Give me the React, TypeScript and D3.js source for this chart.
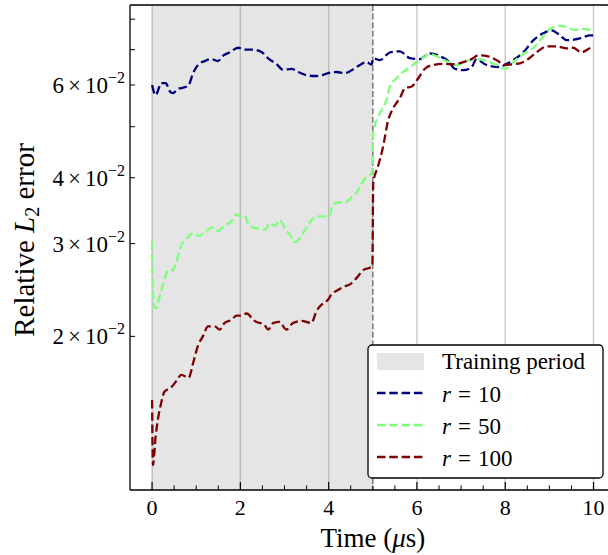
import React from 'react';
import * as d3 from 'd3';

// Time (µs) samples and relative L2 error values (in units of 1e-2)
const tR10 = [0, 0.08, 0.21, 0.31, 0.40, 0.47, 0.59, 0.74, 0.83, 0.93, 1.04, 1.19, 1.34, 1.49, 1.61, 1.76, 1.95, 2.10, 2.29, 2.48, 2.63, 2.82, 2.97, 3.16, 3.31, 3.50, 3.68, 3.84, 3.99, 4.18, 4.37, 4.52, 4.71, 4.86, 4.97, 5.01, 5.16, 5.39, 5.61, 5.84, 6.07, 6.29, 6.56, 6.71, 6.86, 7.05, 7.24, 7.35, 7.54, 7.73, 7.88, 7.99, 8.18, 8.41, 8.64, 8.86, 9.05, 9.24, 9.39, 9.58, 9.75, 9.92, 10.0];
const vR10 = [6.0, 5.74, 6.05, 6.05, 5.84, 5.79, 5.9, 5.94, 6.0, 6.32, 6.55, 6.66, 6.72, 6.66, 6.82, 6.92, 7.06, 7.0, 7.0, 6.93, 6.74, 6.57, 6.41, 6.44, 6.35, 6.26, 6.24, 6.26, 6.32, 6.35, 6.32, 6.40, 6.55, 6.63, 6.56, 6.74, 6.69, 6.92, 6.95, 6.75, 6.72, 6.89, 6.78, 6.66, 6.44, 6.40, 6.49, 6.72, 6.57, 6.50, 6.49, 6.55, 6.69, 6.92, 7.30, 7.52, 7.62, 7.45, 7.30, 7.32, 7.38, 7.45, 7.45];

const tR50 = [0, 0.03, 0.09, 0.17, 0.28, 0.36, 0.47, 0.55, 0.66, 0.78, 0.93, 1.06, 1.23, 1.38, 1.49, 1.64, 1.83, 1.91, 2.02, 2.10, 2.17, 2.29, 2.44, 2.57, 2.66, 2.78, 2.89, 3.0, 3.12, 3.25, 3.42, 3.57, 3.72, 3.87, 4.01, 4.10, 4.24, 4.37, 4.52, 4.63, 4.74, 4.86, 4.98, 5.01, 5.16, 5.31, 5.39, 5.54, 5.69, 5.91, 6.10, 6.29, 6.48, 6.67, 6.90, 7.12, 7.35, 7.58, 7.80, 7.99, 8.18, 8.41, 8.64, 8.82, 9.01, 9.24, 9.43, 9.58, 9.73, 9.92, 10.0];
const vR50 = [3.03, 2.33, 2.26, 2.38, 2.56, 2.67, 2.67, 2.77, 2.98, 3.06, 3.14, 3.10, 3.17, 3.22, 3.17, 3.24, 3.33, 3.41, 3.37, 3.39, 3.28, 3.22, 3.20, 3.19, 3.28, 3.24, 3.32, 3.22, 3.12, 3.02, 3.14, 3.29, 3.38, 3.38, 3.38, 3.56, 3.59, 3.59, 3.67, 3.74, 3.89, 4.02, 4.08, 4.88, 5.3, 5.62, 5.96, 6.18, 6.35, 6.55, 6.72, 6.87, 6.78, 6.66, 6.54, 6.66, 6.72, 6.66, 6.55, 6.44, 6.63, 6.87, 7.06, 7.35, 7.66, 7.77, 7.71, 7.63, 7.67, 7.63, 7.60];

const tR100 = [0, 0.02, 0.08, 0.13, 0.21, 0.28, 0.43, 0.55, 0.66, 0.83, 0.93, 1.04, 1.15, 1.27, 1.42, 1.53, 1.64, 1.80, 1.91, 2.02, 2.14, 2.32, 2.55, 2.63, 2.74, 2.89, 3.04, 3.19, 3.38, 3.61, 3.72, 3.87, 3.99, 4.06, 4.21, 4.37, 4.48, 4.63, 4.78, 4.93, 4.99, 5.01, 5.12, 5.23, 5.35, 5.46, 5.61, 5.73, 5.88, 6.03, 6.18, 6.37, 6.59, 6.82, 7.05, 7.24, 7.39, 7.61, 7.80, 7.99, 8.18, 8.35, 8.49, 8.71, 8.94, 9.17, 9.39, 9.54, 9.73, 9.96, 10.0];
const vR100 = [1.515, 1.14, 1.29, 1.387, 1.50, 1.57, 1.60, 1.645, 1.69, 1.67, 1.78, 1.92, 2.0, 2.09, 2.09, 2.06, 2.12, 2.15, 2.19, 2.19, 2.21, 2.14, 2.10, 2.06, 2.12, 2.13, 2.06, 2.12, 2.14, 2.12, 2.23, 2.31, 2.35, 2.40, 2.45, 2.49, 2.51, 2.58, 2.67, 2.70, 2.72, 3.91, 4.21, 4.57, 5.15, 5.42, 5.66, 5.92, 5.96, 6.18, 6.44, 6.55, 6.58, 6.57, 6.63, 6.72, 6.83, 6.80, 6.69, 6.55, 6.57, 6.60, 6.69, 6.92, 7.10, 7.10, 7.04, 7.06, 6.92, 7.06, 7.06];

const seriesNames = ['10', '50', '100'];
const seriesColors = ['#00007f', '#7dff7a', '#7f0000'];
const seriesTimes = [tR10, tR50, tR100];
const seriesValues = [vR10, vR50, vR100];

const xTicks = [0, 2, 4, 6, 8, 10];
const xMinorTicks = [0.5, 1, 1.5, 2.5, 3, 3.5, 4.5, 5, 5.5, 6.5, 7, 7.5, 8.5, 9, 9.5];
const yLabeledTicks = [2, 3, 4, 6]; // × 10^-2
const yAllTicks = [2, 3, 4, 5, 6, 7, 8];
const trainingPeriod = [0, 5];
const xDomain = [-0.5, 10.5];
const yDomain = [0.01022, 0.0851];

const FONT = '"Liberation Serif", "Times New Roman", serif';

export default function App() {
  const W = 608, H = 555;
  const left = 130, right = 615.6, top = 5, bottom = 490;
  const x = d3.scaleLinear().domain(xDomain).range([left, right]);
  const y = d3.scaleLog().domain(yDomain).range([bottom, top]);

  const line = d3.line<[number, number]>()
    .x(d => x(d[0]))
    .y(d => y(d[1] * 0.01))
    .curve(d3.curveMonotoneX);

  const series = seriesNames.map((name, i) => ({
    name,
    color: seriesColors[i],
    pts: seriesTimes[i].map((t, j) => [t, seriesValues[i][j]] as [number, number]),
  }));

  const legX = 368, legY = 345, legW = 235, legH = 133;

  return (
    <svg width={W} height={H} style={{ position: 'absolute', left: 0, top: 0, background: '#fff' }}
      fontFamily={FONT}>
      <defs>
        <clipPath id="plotclip">
          <rect x={left} y={top} width={right - left} height={bottom - top} />
        </clipPath>
      </defs>
      {/* training span */}
      <rect x={x(trainingPeriod[0])} y={top} width={x(trainingPeriod[1]) - x(trainingPeriod[0])}
        height={bottom - top} fill="#e5e5e5" />
      {/* vertical grid */}
      {xTicks.map(t => (
        <line key={'g' + t} x1={x(t)} x2={x(t)} y1={top} y2={bottom} stroke="#808080"
          strokeOpacity={0.4} strokeWidth={1.5} />
      ))}
      {/* end of training dashed line */}
      <line x1={x(trainingPeriod[1])} x2={x(trainingPeriod[1])} y1={top} y2={bottom}
        stroke="#808080" strokeWidth={1.6} strokeDasharray="6,2.6" />
      {/* series */}
      <g clipPath="url(#plotclip)">
        {series.map(s => (
          <path key={s.name} d={line(s.pts) || ''} fill="none" stroke={s.color}
            strokeWidth={2.3} strokeDasharray="8.5,3.8" />
        ))}
      </g>
      {/* spines */}
      <line x1={left} x2={left} y1={top} y2={bottom} stroke="#000" strokeWidth={1.3} />
      <line x1={left} x2={right} y1={bottom} y2={bottom} stroke="#000" strokeWidth={1.3} />
      <line x1={left} x2={right} y1={top} y2={top} stroke="#000" strokeWidth={1.3} />
      <line x1={right} x2={right} y1={top} y2={bottom} stroke="#000" strokeWidth={1.3} />
      {/* x ticks */}
      {xTicks.map(t => (
        <g key={'xt' + t}>
          <line x1={x(t)} x2={x(t)} y1={bottom} y2={bottom - 8} stroke="#000" strokeWidth={1.2} />
          <text x={x(t)} y={bottom + 25} fontSize={22} textAnchor="middle" fill="#000">{t}</text>
        </g>
      ))}
      {xMinorTicks.map(t => (
        <line key={'xm' + t} x1={x(t)} x2={x(t)} y1={bottom} y2={bottom - 4.5} stroke="#000" strokeWidth={1} />
      ))}
      {/* y ticks */}
      {yAllTicks.map(v => (
        <line key={'yt' + v} x1={left} x2={left + 5} y1={y(v * 0.01)} y2={y(v * 0.01)} stroke="#000" strokeWidth={1} />
      ))}
      {yLabeledTicks.map(v => (
        <text key={'yl' + v} x={left - 5} y={y(v * 0.01) + 8} fontSize={23} textAnchor="end" fill="#000">
          {v}<tspan dx={4}>×</tspan><tspan dx={4}>10</tspan><tspan dy={-10} fontSize={16}>−2</tspan>
        </text>
      ))}
      {/* axis labels */}
      <text x={(left + right) / 2} y={547} fontSize={27} textAnchor="middle" fill="#000">
        Time (<tspan fontStyle="italic">μ</tspan>s)
      </text>
      <text transform={`translate(34, 240) rotate(-90)`} fontSize={29} textAnchor="middle" fill="#000">
        Relative <tspan fontStyle="italic">L</tspan><tspan dy={5} fontSize={20}>2</tspan><tspan dy={-5}> error</tspan>
      </text>
      {/* legend */}
      <rect x={legX} y={legY} width={legW} height={legH} rx={4} ry={4} fill="#fff" fillOpacity={0.95}
        stroke="#000" strokeWidth={1.3} />
      <rect x={377} y={353} width={47} height={17} fill="#e5e5e5" />
      <text x={442} y={369} fontSize={23} fill="#000">Training period</text>
      {series.map((s, i) => {
        const ly = 393 + i * 32;
        return (
          <g key={'leg' + s.name}>
            <line x1={377} x2={424} y1={ly} y2={ly} stroke={s.color} strokeWidth={2.3} strokeDasharray="8.5,3.8" />
            <text x={442} y={ly + 9} fontSize={23} fill="#000">
              <tspan fontStyle="italic">r</tspan><tspan dx={7}>=</tspan><tspan dx={7}>{s.name}</tspan>
            </text>
          </g>
        );
      })}
    </svg>
  );
}
